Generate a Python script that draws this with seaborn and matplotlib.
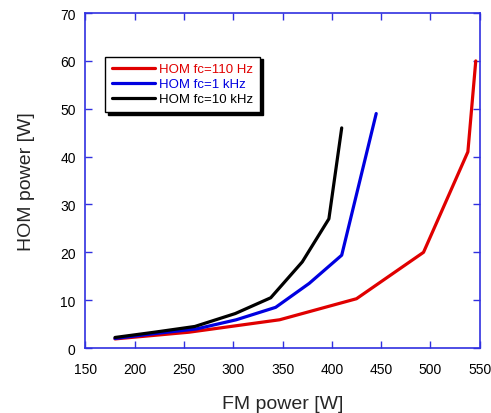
import matplotlib
matplotlib.use("Agg")
import matplotlib.pyplot as plt
import seaborn as sns
import pandas as pd

red_x = [180, 255, 347, 425, 493, 538, 546]
red_y = [1.9, 3.3, 5.9, 10.3, 20.0, 41.0, 60.0]
blue_x = [180, 220, 263, 303, 343, 377, 410, 445]
blue_y = [2.0, 3.0, 4.0, 5.9, 8.5, 13.5, 19.4, 49.0]
black_x = [180, 220, 261, 302, 338, 370, 397, 410]
black_y = [2.2, 3.3, 4.5, 7.2, 10.5, 18.0, 27.0, 46.0]
labels = ["HOM fc=110 Hz", "HOM fc=1 kHz", "HOM fc=10 kHz"]
colors = ["#e00000", "#0000e0", "#000000"]
x_ticks = [150, 200, 250, 300, 350, 400, 450, 500, 550]
y_ticks = [0, 10, 20, 30, 40, 50, 60, 70]

rows = []
for lab, xs, ys in zip(labels, [red_x, blue_x, black_x], [red_y, blue_y, black_y]):
    for x, y in zip(xs, ys):
        rows.append({"FM": x, "HOM": y, "series": lab})
df = pd.DataFrame(rows)

sns.set_style("ticks")
plt.rcParams["font.family"] = ["Liberation Sans", "DejaVu Sans"]

fig = plt.figure(figsize=(4.91, 4.14), dpi=100)
ax = fig.add_axes([0.174, 0.157, 0.803, 0.809])
sns.lineplot(data=df, x="FM", y="HOM", hue="series", palette=dict(zip(labels, colors)),
             sort=False, estimator=None, linewidth=2.3, ax=ax, legend=False)

ax.set_xlim(150, 550)
ax.set_ylim(0, 70)
ax.set_xticks(x_ticks)
ax.set_yticks(y_ticks)
ax.tick_params(axis="both", direction="in", top=True, right=True, length=5,
               width=1, color="#3030e0", labelsize=10, labelcolor="black")
ax.tick_params(axis="x", pad=10)
ax.tick_params(axis="y", pad=7)
for s in ax.spines.values():
    s.set_color("#3030e0")
    s.set_linewidth(1.2)
    s.set_visible(True)
ax.set_xlabel("FM power [W]", fontsize=14, labelpad=14)
ax.set_ylabel("HOM power [W]", fontsize=14, labelpad=18)

handles = [plt.Line2D([], [], color=c, linewidth=2.3) for c in colors]
leg = ax.legend(handles, labels, loc="upper left", bbox_to_anchor=(0.05, 0.87),
                frameon=True, fancybox=False, shadow={"color": "black", "alpha": 1.0},
                edgecolor="black", fontsize=9.5, handlelength=3.3, handletextpad=0.3,
                labelspacing=0.2, borderpad=0.5, borderaxespad=0)
leg.get_frame().set_linewidth(1.0)
for t, c in zip(leg.get_texts(), colors):
    t.set_color(c)

fig.savefig("out.png", dpi=100)
